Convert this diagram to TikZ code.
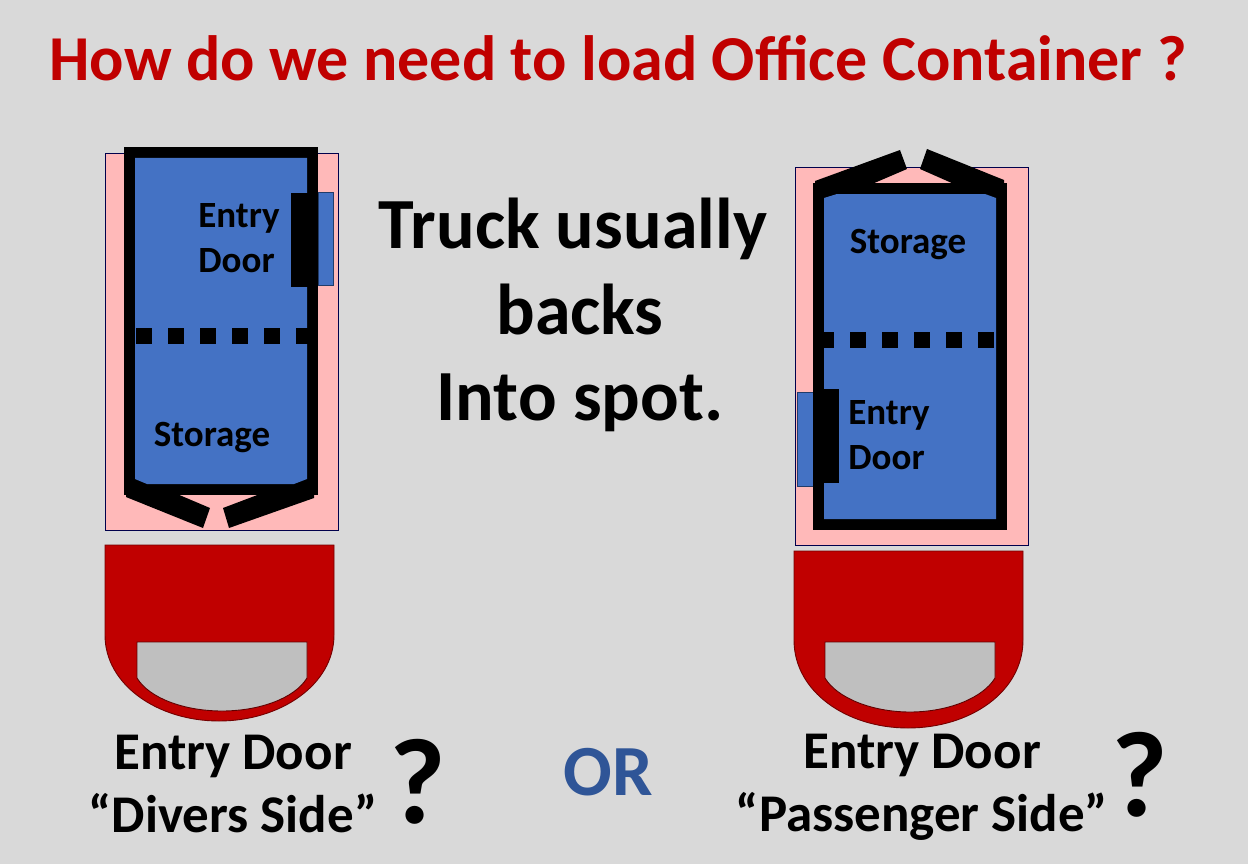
\documentclass[tikz,border=0pt]{standalone}
\usepackage{fontspec}
\setmainfont{Carlito}
\definecolor{slide}{HTML}{D9D9D9}
\definecolor{bed}{HTML}{FFB9B9}
\definecolor{box}{HTML}{4472C4}
\definecolor{cab}{HTML}{C00000}
\definecolor{glass}{HTML}{BFBFBF}
\definecolor{orblue}{HTML}{2F5597}
\tikzset{
  bedshape/.style={fill=bed,draw=black!70!blue,line width=0.7pt},
  roomshape/.style={fill=box},
  stepshape/.style={fill=box,draw=orblue!70!black,line width=0.7pt},
  wallshape/.style={fill=black},
  cabshape/.style={fill=cab,draw=cab!60!black,line width=0.9pt},
  glassshape/.style={fill=glass,draw=cab!50!black,line width=0.9pt},
  splitline/.style={line width=16pt,dash pattern=on 16pt off 16pt},
  titletext/.style={font=\bfseries\fontsize{64}{68}\selectfont,text=cab},
  bigtext/.style={font=\bfseries\fontsize{72}{86}\selectfont,align=center},
  roomtext/.style={font=\bfseries\fontsize{37}{45}\selectfont,align=left,text=black},
  sidetext/.style={font=\bfseries\fontsize{53}{63}\selectfont,align=center},
  ortext/.style={font=\bfseries\fontsize{72}{76}\selectfont,text=orblue},
  asktext/.style={font=\bfseries\fontsize{122}{122}\selectfont}
}
\begin{document}
\begin{tikzpicture}[x=1pt,y=-1pt]
  \fill[slide] (0,0) rectangle (1248,864);
  \useasboundingbox (0,0) rectangle (1248,864);

  \node[titletext] (title) at (618,58) {How do we need to load Office Container ?};
  \node[bigtext] (truck) at (580,315) {Truck usually\hspace*{14pt}\\backs\\Into spot.};
  \node[ortext] (orlabel) at (608,772) {OR};

  \draw[bedshape] (105,153) rectangle (338,530);
  \draw[stepshape] (318,192) rectangle (333,285);
  \fill[wallshape] (124,147) rectangle (318,495);
  \fill[roomshape] (135,158) -- (307,158) -- (307,479) -- (294,484) -- (147,484) -- (135,479) -- cycle;
  \fill[wallshape] (291,193) rectangle (318,287);
  \draw[black,splitline] (136,336) -- (318,336);
  \fill[wallshape] (126,497) -- (126,494) -- (177,494) -- (210,508) -- (203,528) -- cycle;
  \fill[wallshape] (223,508) -- (260,494) -- (314,494) -- (314,498) -- (229,528) -- cycle;
  \node[roomtext] (entryleft) at (239,238) {Entry\\Door};
  \node[roomtext] (storeleft) at (212,437) {Storage};

  \draw[bedshape] (795,167) rectangle (1028,545);
  \draw[stepshape] (797,392) rectangle (813,486);
  \fill[wallshape] (813,183) rectangle (1007,530);
  \fill[roomshape] (824,198) -- (837,194) -- (985,194) -- (996,198) -- (996,519) -- (824,519) -- cycle;
  \fill[wallshape] (813,389) rectangle (839,483);
  \draw[black,splitline] (818,340) -- (996,340);
  \fill[wallshape] (815,181) -- (900,150) -- (907,169) -- (872,184) -- (815,184) -- cycle;
  \fill[wallshape] (927,149) -- (1004,180) -- (1004,184) -- (954,184) -- (920,169) -- cycle;
  \node[roomtext] (entryright) at (889,435) {Entry\\Door};
  \node[roomtext] (storeright) at (908,245) {Storage};

  \draw[cabshape] (105,545) -- (334,545) -- (334,635) .. controls (334,685) and (280,721) .. (219,721) .. controls (158,721) and (105,685) .. (105,635) -- cycle;
  \draw[glassshape] (137,642) -- (307,642) -- (307,678) .. controls (295,698) and (260,711) .. (222,711) .. controls (184,711) and (149,698) .. (137,678) -- cycle;
  \draw[cabshape] (794,551) -- (1023,551) -- (1023,640) .. controls (1023,692) and (970,728) .. (908,728) .. controls (847,728) and (794,692) .. (794,640) -- cycle;
  \draw[glassshape] (825,642) -- (995,642) -- (995,678) .. controls (983,698) and (948,712) .. (910,712) .. controls (872,712) and (837,698) .. (825,678) -- cycle;

  \node[sidetext] (driver) at (233,784) {Entry Door\\“Divers Side”};
  \node[sidetext] (passenger) at (922,787) {Entry Door\\“Passenger Side”};
  \node[asktext] (askleft) at (418,782) {?};
  \node[asktext] (askright) at (1140,775) {?};
\end{tikzpicture}
\end{document}
